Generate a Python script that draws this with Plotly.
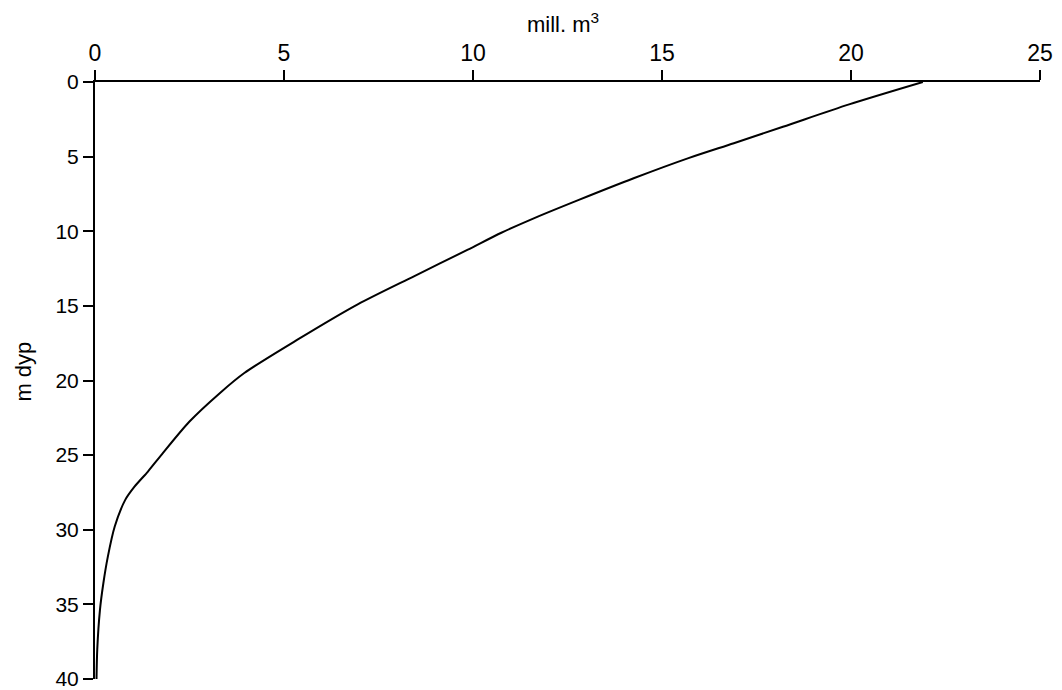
import plotly.graph_objects as go

# Volume (mill. m³) above each depth (m dyp)
depth = [0.0, 1.5, 3.0, 4.1, 5.1, 6.45, 7.9, 9.25, 10.1, 11.25, 13.0, 14.9,
         17.2, 19.5, 20.85, 22.75, 25.1, 26.1, 27.1, 28.0, 29.8, 31.8, 33.6,
         35.4, 38.0, 40.0]
volume = [21.9, 19.95, 18.2, 16.9, 15.7, 14.25, 12.8, 11.5, 10.75, 9.85,
          8.45, 6.95, 5.4, 3.95, 3.3, 2.5, 1.72, 1.4, 1.05, 0.8, 0.52,
          0.34, 0.22, 0.13, 0.06, 0.04]

x_ticks = [0, 5, 10, 15, 20, 25]
y_ticks = [0, 5, 10, 15, 20, 25, 30, 35, 40]
x_title = "mill. m<sup>3</sup>"
y_title = "m dyp"

font_family = "Liberation Sans, Arial, sans-serif"

fig = go.Figure()
fig.add_trace(go.Scatter(
    x=volume, y=depth, mode="lines",
    line=dict(color="black", width=2, shape="spline", smoothing=0.8),
    showlegend=False, hoverinfo="skip", cliponaxis=False,
))

fig.update_layout(
    width=1062, height=690,
    margin=dict(l=95, r=22, t=82, b=11, autoexpand=False),
    paper_bgcolor="white", plot_bgcolor="white",
    font=dict(family=font_family, color="black"),
    xaxis=dict(
        side="top", range=[0, 25], tickvals=x_ticks,
        ticks="outside", ticklen=10, tickwidth=2, tickcolor="black",
        showline=True, linecolor="black", linewidth=2, automargin=False,
        showgrid=False, zeroline=False, ticklabeloverflow="allow",
        tickfont=dict(size=23, family=font_family),
    ),
    yaxis=dict(
        range=[40, 0], tickvals=y_ticks,
        ticks="outside", ticklen=10, tickwidth=2, tickcolor="black",
        showline=True, linecolor="black", linewidth=2, automargin=False,
        showgrid=False, zeroline=False, ticklabeloverflow="allow",
        tickfont=dict(size=21, family=font_family),
    ),
    annotations=[
        dict(text=x_title, xref="paper", yref="paper", x=0.495, y=1.099,
             showarrow=False, font=dict(size=22, family=font_family),
             xanchor="center", yanchor="middle"),
        dict(text=y_title, xref="paper", yref="y", x=-0.0751, y=19.4,
             showarrow=False, textangle=-90,
             font=dict(size=22, family=font_family),
             xanchor="center", yanchor="middle"),
    ],
)

fig.write_html(
    "out.html",
    config={"displayModeBar": False},
    post_script="document.body.style.margin='0px';document.body.style.overflow='hidden';",
)
